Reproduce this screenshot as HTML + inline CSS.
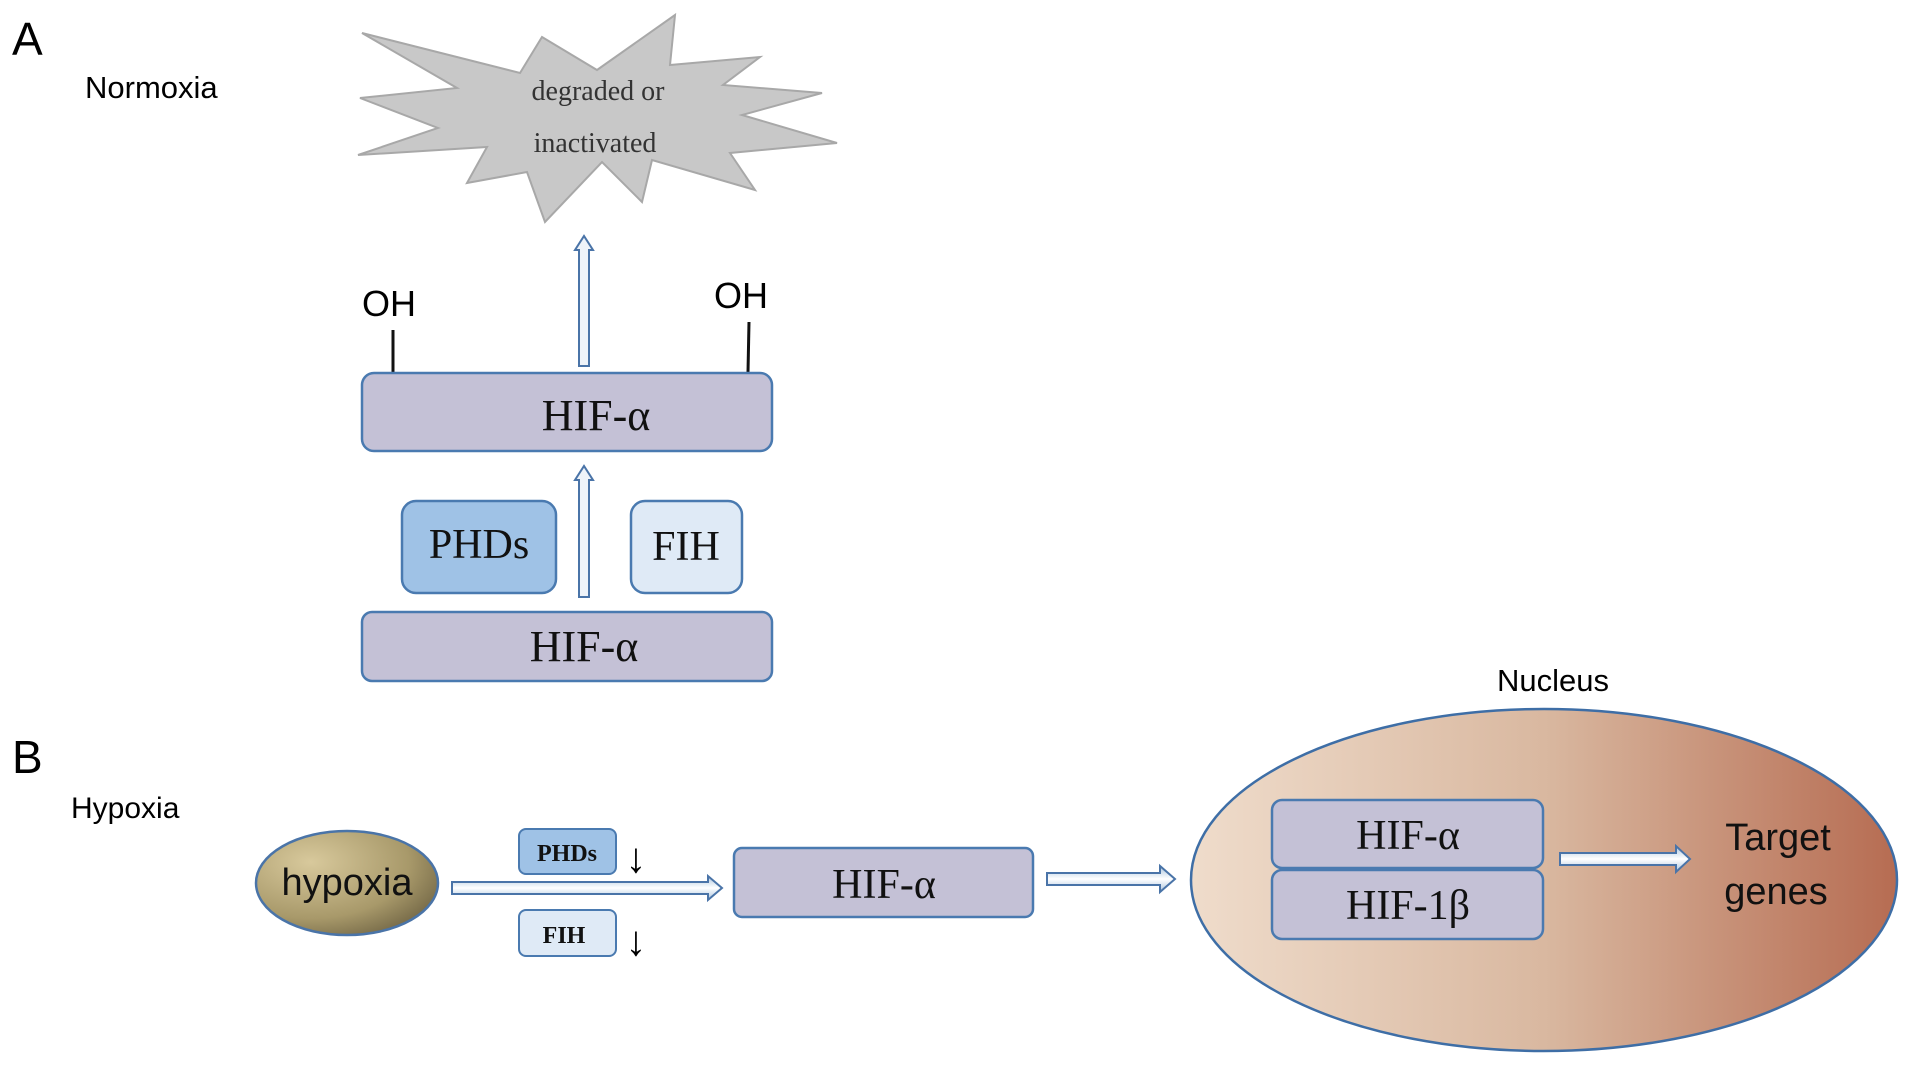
<!DOCTYPE html>
<html><head><meta charset="utf-8"><style>
html,body{margin:0;padding:0;background:#fff;}
svg{display:block;}
.s{font-family:"Liberation Sans",sans-serif;}
.r{font-family:"Liberation Serif",serif;}
</style></head><body>
<svg width="1913" height="1068" viewBox="0 0 1913 1068" xmlns="http://www.w3.org/2000/svg">
<defs>
<linearGradient id="nuc" x1="0" x2="1" y1="0" y2="0">
<stop offset="0" stop-color="#efdccb"/><stop offset="0.5" stop-color="#d9b8a0"/><stop offset="1" stop-color="#b66c52"/>
</linearGradient>
<radialGradient id="hyp" cx="0.3" cy="0.3" r="0.9">
<stop offset="0" stop-color="#d8c99c"/><stop offset="0.6" stop-color="#a8996a"/><stop offset="1" stop-color="#62573a"/>
</radialGradient>
<linearGradient id="arr" x1="0" x2="0" y1="0" y2="1">
<stop offset="0" stop-color="#aac4de"/><stop offset="0.5" stop-color="#ffffff"/><stop offset="1" stop-color="#aac4de"/>
</linearGradient>
</defs>

<text class="s" x="12" y="55" font-size="46">A</text>
<text class="s" x="85" y="98" font-size="31">Normoxia</text>

<polygon points="362,33 520,73 542,37 597,70 675,15 670,65 760,57 723,85 822,93 742,115 837,143 730,153 755,190 652,160 642,202 602,162 545,222 527,172 467,183 487,147 358,155 438,128 360,98 457,88" fill="#c8c8c8" stroke="#a8a8a8" stroke-width="2"/>
<text class="r" x="598" y="100" font-size="28" text-anchor="middle" fill="#333">degraded or</text>
<text class="r" x="595" y="152" font-size="28" text-anchor="middle" fill="#333">inactivated</text>

<polygon points="579,366 579,250 575,250 584,236 593,250 589,250 589,366" fill="#eef3f9" stroke="#4a74a8" stroke-width="2"/>
<text class="s" x="362" y="316" font-size="36">OH</text>
<line x1="393" y1="330" x2="393" y2="372" stroke="#111" stroke-width="3"/>
<text class="s" x="714" y="308" font-size="36">OH</text>
<line x1="749" y1="322" x2="748" y2="372" stroke="#111" stroke-width="3"/>

<rect x="362" y="373" width="410" height="78" rx="12" fill="#c4c1d6" stroke="#4a7ab0" stroke-width="2.5"/>
<text class="r" x="596" y="430" font-size="44" text-anchor="middle" fill="#111">HIF-α</text>

<polygon points="579,597 579,480 575,480 584,466 593,480 589,480 589,597" fill="#eef3f9" stroke="#4a74a8" stroke-width="2"/>

<rect x="402" y="501" width="154" height="92" rx="14" fill="#9fc2e6" stroke="#4a7ab0" stroke-width="2.5"/>
<text class="r" x="479" y="558" font-size="42" text-anchor="middle" fill="#111">PHDs</text>
<rect x="631" y="501" width="111" height="92" rx="14" fill="#dfeaf6" stroke="#4a7ab0" stroke-width="2.5"/>
<text class="r" x="686" y="560" font-size="42" text-anchor="middle" fill="#111">FIH</text>

<rect x="362" y="612" width="410" height="69" rx="10" fill="#c4c1d6" stroke="#4a7ab0" stroke-width="2.5"/>
<text class="r" x="584" y="661" font-size="44" text-anchor="middle" fill="#111">HIF-α</text>

<text class="s" x="12" y="773" font-size="46">B</text>
<text class="s" x="71" y="818" font-size="30">Hypoxia</text>
<text class="s" x="1553" y="691" font-size="31" text-anchor="middle">Nucleus</text>

<ellipse cx="1544" cy="880" rx="353" ry="171" fill="url(#nuc)" stroke="#3e6ea6" stroke-width="2.5"/>

<ellipse cx="347" cy="883" rx="91" ry="52" fill="url(#hyp)" stroke="#4a74a8" stroke-width="2.5"/>
<text class="s" x="347" y="895" font-size="38" text-anchor="middle" fill="#111">hypoxia</text>

<polygon points="452,882 708,882 708,876 722,888 708,900 708,894 452,894" fill="url(#arr)" stroke="#4a74a8" stroke-width="2"/>

<rect x="519" y="829" width="97" height="45" rx="7" fill="#9fc2e6" stroke="#4a7ab0" stroke-width="2"/>
<text class="r" x="567" y="861" font-size="24" font-weight="bold" text-anchor="middle" fill="#111">PHDs</text>
<text class="s" x="636" y="872" font-size="42" text-anchor="middle">↓</text>
<rect x="519" y="910" width="97" height="46" rx="7" fill="#dfeaf6" stroke="#4a7ab0" stroke-width="2"/>
<text class="r" x="564" y="943" font-size="24" font-weight="bold" text-anchor="middle" fill="#111">FIH</text>
<text class="s" x="636" y="955" font-size="42" text-anchor="middle">↓</text>

<rect x="734" y="848" width="299" height="69" rx="8" fill="#c4c1d6" stroke="#4a7ab0" stroke-width="2.5"/>
<text class="r" x="884" y="898" font-size="42" text-anchor="middle" fill="#111">HIF-α</text>

<polygon points="1047,873 1160,873 1160,866 1175,879 1160,892 1160,885 1047,885" fill="url(#arr)" stroke="#4a74a8" stroke-width="2"/>

<rect x="1272" y="800" width="271" height="68" rx="10" fill="#c4c1d6" stroke="#4a7ab0" stroke-width="2.5"/>
<text class="r" x="1408" y="849" font-size="42" text-anchor="middle" fill="#111">HIF-α</text>
<rect x="1272" y="870" width="271" height="69" rx="10" fill="#c4c1d6" stroke="#4a7ab0" stroke-width="2.5"/>
<text class="r" x="1408" y="919" font-size="42" text-anchor="middle" fill="#111">HIF-1β</text>

<polygon points="1560,853 1676,853 1676,846 1690,859 1676,872 1676,865 1560,865" fill="url(#arr)" stroke="#4a74a8" stroke-width="2"/>

<text class="s" x="1778" y="850" font-size="38" text-anchor="middle" fill="#111">Target</text>
<text class="s" x="1776" y="904" font-size="38" text-anchor="middle" fill="#111">genes</text>
</svg>
</body></html>
